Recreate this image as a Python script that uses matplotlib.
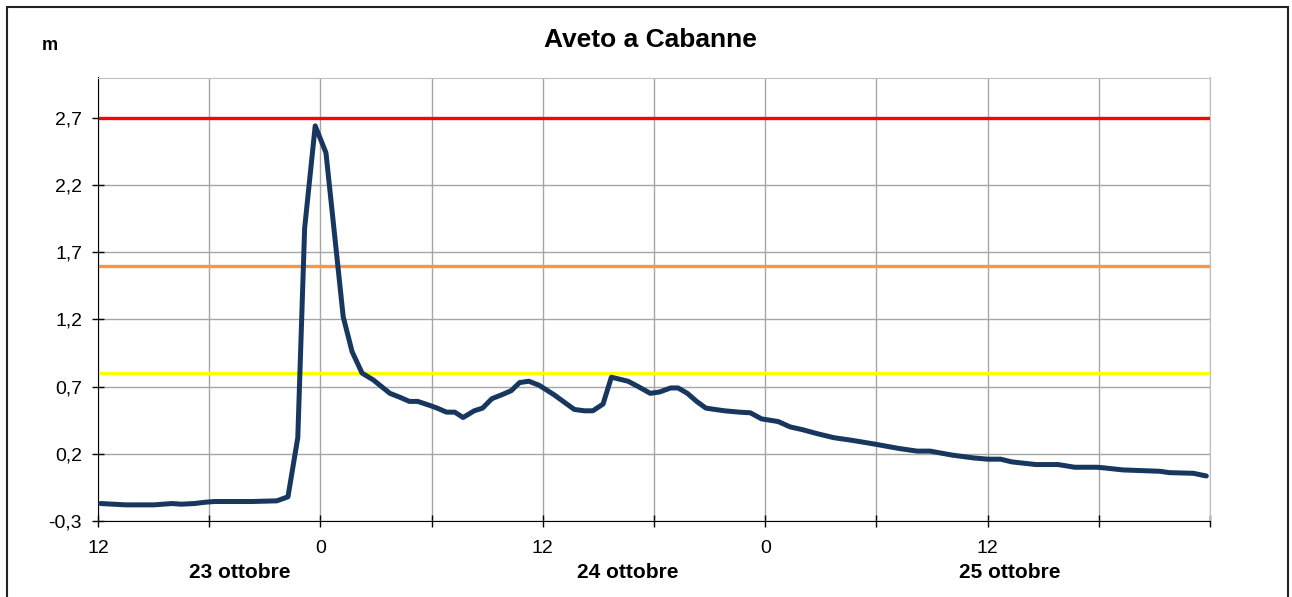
import matplotlib.pyplot as plt
import matplotlib.patches as patches
import matplotlib.transforms as transforms

plt.rcParams['font.family'] = ['Liberation Sans', 'DejaVu Sans']

# hours since 23 ottobre 12:00
hours = [0.15, 1.5, 3.0, 4.0, 4.5, 5.2, 5.8, 6.3, 8.3, 9.65, 10.25, 10.78, 11.15,
         11.72, 12.3, 13.23, 13.71, 14.25, 14.85, 15.75, 16.3, 16.8, 17.25, 17.9,
         18.3, 18.8, 19.25, 19.7, 20.3, 20.75, 21.25, 21.8, 22.3, 22.75, 23.25,
         23.8, 24.6, 25.2, 25.7, 26.25, 26.7, 27.25, 27.7, 28.6, 29.15, 29.8, 30.3,
         30.9, 31.3, 31.8, 32.3, 32.8, 33.3, 33.8, 34.6, 35.2, 35.8, 36.7, 37.35,
         38.0, 38.8, 39.7, 40.7, 42.0, 43.2, 44.2, 44.9, 46.1, 47.2, 48.0, 48.7,
         49.3, 50.6, 51.8, 52.7, 53.9, 54.3, 55.3, 57.3, 57.8, 59.1, 59.8]
level = [-0.17, -0.18, -0.18, -0.17, -0.175, -0.17, -0.16, -0.155, -0.155, -0.15,
         -0.12, 0.32, 1.88, 2.64, 2.44, 1.22, 0.96, 0.80, 0.75, 0.65, 0.62, 0.59,
         0.59, 0.56, 0.54, 0.51, 0.51, 0.47, 0.52, 0.54, 0.61, 0.64, 0.67, 0.73,
         0.74, 0.71, 0.64, 0.58, 0.53, 0.52, 0.52, 0.57, 0.77, 0.74, 0.70, 0.65,
         0.66, 0.69, 0.69, 0.65, 0.59, 0.54, 0.53, 0.52, 0.51, 0.505, 0.46, 0.44,
         0.40, 0.38, 0.35, 0.32, 0.30, 0.27, 0.24, 0.22, 0.22, 0.19, 0.17, 0.16,
         0.16, 0.14, 0.12, 0.12, 0.10, 0.10, 0.095, 0.08, 0.07, 0.06, 0.055, 0.035]

thresholds = [2.7, 1.6, 0.8]
threshold_colors = ['#ff0000', '#f79646', '#ffff00']

x_ticks = list(range(0, 61, 6))
x_labels = ['12', '', '0', '', '12', '', '0', '', '12', '', '']
y_ticks = [-0.3, 0.2, 0.7, 1.2, 1.7, 2.2, 2.7]
y_labels = ['-0,3', '0,2', '0,7', '1,2', '1,7', '2,2', '2,7']
days = ['23 ottobre', '24 ottobre', '25 ottobre']
day_pos = [7.65, 28.6, 49.2]

fig = plt.figure(figsize=(12.92, 5.97), dpi=100)
ax = fig.add_axes([98 / 1292, 76 / 597, 1112 / 1292, 443.5 / 597])

# outer frame
fig.patches.append(patches.Rectangle((7 / 1292, -0.05), 1281 / 1292, 1.05 - 7 / 597,
                                     transform=fig.transFigure, fill=False,
                                     edgecolor='#222222', lw=1.5))

for t, c in zip(thresholds, threshold_colors):
    ax.axhline(t, color=c, lw=2.4, zorder=2)

ax.plot(hours, level, color='#17375e', lw=3.6, solid_joinstyle='round',
        solid_capstyle='round', zorder=3)

ax.set_xlim(0, 60)
ax.set_ylim(-0.3, 3.0)
ax.set_xticks(x_ticks)
ax.set_xticklabels(x_labels, fontsize=14)
ax.set_yticks(y_ticks)
ax.set_yticklabels(y_labels, fontsize=14)
ax.grid(True, color='#a6a6a6', lw=1)
ax.set_axisbelow(True)
ax.tick_params(direction='inout', length=9, width=1, color='black', pad=7)
ax.tick_params(axis='x', pad=9)
for s in ['top', 'right']:
    ax.spines[s].set_color('#bfbfbf')
for s in ['left', 'bottom']:
    ax.spines[s].set_color('black')

trans = transforms.blended_transform_factory(ax.transData, ax.transAxes)
for d, p in zip(days, day_pos):
    ax.text(p, -0.115, d, transform=trans, ha='center', va='center',
            fontsize=15, fontweight='bold')

fig.text(650 / 1292, 1 - 40 / 597, 'Aveto a Cabanne', ha='center', va='center',
         fontsize=19, fontweight='bold')
fig.text(50 / 1292, 1 - 45 / 597, 'm', ha='center', va='center',
         fontsize=13, fontweight='bold')

fig.savefig('out.png', dpi=100)
